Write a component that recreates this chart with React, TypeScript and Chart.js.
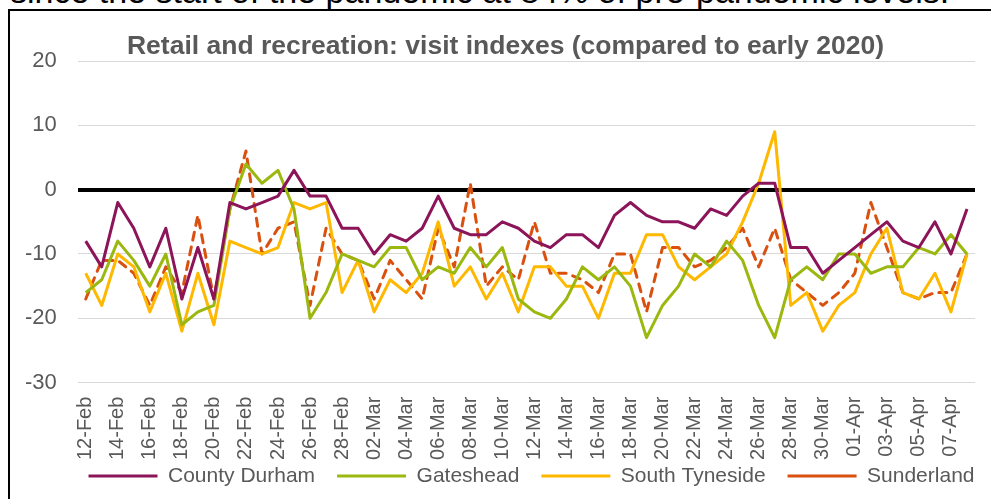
import React, { useEffect, useRef } from 'react';
import { Chart, registerables } from 'chart.js';

Chart.register(...registerables);

const dates = [
  '12-Feb', '13-Feb', '14-Feb', '15-Feb', '16-Feb', '17-Feb', '18-Feb', '19-Feb', '20-Feb', '21-Feb',
  '22-Feb', '23-Feb', '24-Feb', '25-Feb', '26-Feb', '27-Feb', '28-Feb', '01-Mar', '02-Mar', '03-Mar',
  '04-Mar', '05-Mar', '06-Mar', '07-Mar', '08-Mar', '09-Mar', '10-Mar', '11-Mar', '12-Mar', '13-Mar',
  '14-Mar', '15-Mar', '16-Mar', '17-Mar', '18-Mar', '19-Mar', '20-Mar', '21-Mar', '22-Mar', '23-Mar',
  '24-Mar', '25-Mar', '26-Mar', '27-Mar', '28-Mar', '29-Mar', '30-Mar', '31-Mar', '01-Apr', '02-Apr',
  '03-Apr', '04-Apr', '05-Apr', '06-Apr', '07-Apr', '08-Apr',
];

const countyDurham = [
  -8, -12, -2, -6, -12, -6, -17, -9, -17, -2,
  -3, -2, -1, 3, -1, -1, -6, -6, -10, -7,
  -8, -6, -1, -6, -7, -7, -5, -6, -8, -9,
  -7, -7, -9, -4, -2, -4, -5, -5, -6, -3,
  -4, -1, 1, 1, -9, -9, -13, -11, -9, -7,
  -5, -8, -9, -5, -10, -3,
];

const gateshead = [
  -16, -14, -8, -11, -15, -10, -21, -19, -18, -3,
  4, 1, 3, -3, -20, -16, -10, -11, -12, -9,
  -9, -14, -12, -13, -9, -12, -9, -17, -19, -20,
  -17, -12, -14, -12, -15, -23, -18, -15, -10, -12,
  -8, -11, -18, -23, -14, -12, -14, -10, -10, -13,
  -12, -12, -9, -10, -7, -10,
];

const southTyneside = [
  -13, -18, -10, -12, -19, -13, -22, -13, -21, -8,
  -9, -10, -9, -2, -3, -2, -16, -11, -19, -14,
  -16, -13, -5, -15, -12, -17, -13, -19, -12, -12,
  -15, -15, -20, -13, -13, -7, -7, -12, -14, -12,
  -10, -5, 1, 9, -18, -16, -22, -18, -16, -10,
  -6, -16, -17, -13, -19, -10,
];

const sunderland = [
  -17, -11, -11, -13, -18, -12, -16, -4, -17, -3,
  6, -10, -6, -5, -18, -6, -10, -11, -17, -11,
  -14, -17, -6, -12, 1, -15, -12, -14, -5, -13,
  -13, -14, -16, -10, -10, -19, -9, -9, -12, -11,
  -9, -6, -12, -6, -14, -16, -18, -16, -13, -2,
  -9, -16, -17, -16, -16, -10,
];

const seriesNames = ['County Durham', 'Gateshead', 'South Tyneside', 'Sunderland'];
const seriesColors = ['#8C1459', '#9AB80F', '#FFB800', '#D9500F'];

const FONT = '"Liberation Sans", Arial, sans-serif';
const GREY = '#595959';

// keeps the legend row close under the rotated date labels
const legendPlace = {
  id: 'legendPlace',
  afterLayout(chart: any) {
    const l = chart.legend;
    if (!l) return;
    const h = l.bottom - l.top;
    const top = chart.chartArea.bottom + 60.9;
    l.top = top;
    l.bottom = top + h;
  },
};

export default function App() {
  const ref = useRef<HTMLCanvasElement>(null);

  useEffect(() => {
    const canvas = ref.current;
    if (!canvas) return;
    const values = [countyDurham, gateshead, southTyneside, sunderland];
    const chart = new Chart(canvas, {
      type: 'line',
      data: {
        labels: dates,
        datasets: values.map((v, i) => ({
          label: seriesNames[i],
          data: v,
          borderColor: seriesColors[i],
          backgroundColor: seriesColors[i],
          borderWidth: 3,
          pointRadius: 0,
          pointHoverRadius: 0,
          tension: 0,
          fill: false,
          borderDash: i === 3 ? [8, 7] : [],
          borderCapStyle: i === 3 ? 'round' : 'butt',
          borderJoinStyle: 'round',
        })),
      },
      options: {
        animation: false,
        responsive: false,
        maintainAspectRatio: false,
        events: [],
        layout: { padding: { top: 50, left: 0, right: 0, bottom: 0 } },
        plugins: {
          title: { display: false },
          tooltip: { enabled: false },
          legend: {
            display: true,
            position: 'bottom',
            labels: {
              usePointStyle: true,
              pointStyle: 'line',
              pointStyleWidth: 69,
              padding: 22,
              color: GREY,
              font: { size: 21, family: FONT },
            },
          },
        },
        scales: {
          x: {
            type: 'category',
            offset: true,
            grid: { display: false, drawTicks: false },
            border: { display: false },
            ticks: {
              autoSkip: false,
              minRotation: 90,
              maxRotation: 90,
              padding: 14,
              color: GREY,
              font: { size: 20, family: FONT },
              callback: (_v: any, i: number) => (i % 2 === 0 ? dates[i] : ''),
            },
          },
          y: {
            position: 'left',
            min: -30,
            max: 20,
            border: { display: false },
            grid: {
              drawTicks: false,
              color: (ctx: any) => (ctx.tick && ctx.tick.value === 0 ? '#000000' : '#D9D9D9'),
              lineWidth: (ctx: any) => (ctx.tick && ctx.tick.value === 0 ? 4 : 1),
            },
            ticks: {
              stepSize: 10,
              padding: 21,
              color: GREY,
              font: { size: 22, family: FONT },
            },
            afterFit: (s: any) => {
              s.width = 67.7;
            },
          },
          yRight: {
            position: 'right',
            display: true,
            grid: { display: false, drawTicks: false },
            border: { display: false },
            ticks: { display: false },
            afterFit: (s: any) => {
              s.width = 78;
            },
          },
        },
      },
      plugins: [legendPlace],
    } as any);
    return () => chart.destroy();
  }, []);

  return (
    <div
      style={{
        position: 'absolute',
        left: 0,
        top: 0,
        width: 991,
        height: 499,
        overflow: 'hidden',
        background: '#ffffff',
      }}
    >
      <div
        style={{
          position: 'absolute',
          left: 10,
          top: -26.3,
          font: `34px ${FONT}`,
          lineHeight: '34px',
          whiteSpace: 'nowrap',
          color: '#000000',
        }}
      >
        since the start of the pandemic at 84% of pre-pandemic levels.
      </div>
      <div
        style={{
          position: 'absolute',
          left: 8,
          top: 9,
          width: 1200,
          height: 600,
          borderLeft: '2px solid #000',
          borderTop: '2px solid #000',
          boxSizing: 'border-box',
        }}
      />
      <canvas
        ref={ref}
        width={1043}
        height={516}
        style={{ position: 'absolute', left: 10, top: 11, width: 1043, height: 516 }}
      />
      <div
        style={{
          position: 'absolute',
          left: 0,
          width: 1011,
          top: 31.6,
          textAlign: 'center',
          font: `bold 26.5px ${FONT}`,
          lineHeight: '26.5px',
          whiteSpace: 'nowrap',
          color: GREY,
        }}
      >
        Retail and recreation: visit indexes (compared to early 2020)
      </div>
    </div>
  );
}
